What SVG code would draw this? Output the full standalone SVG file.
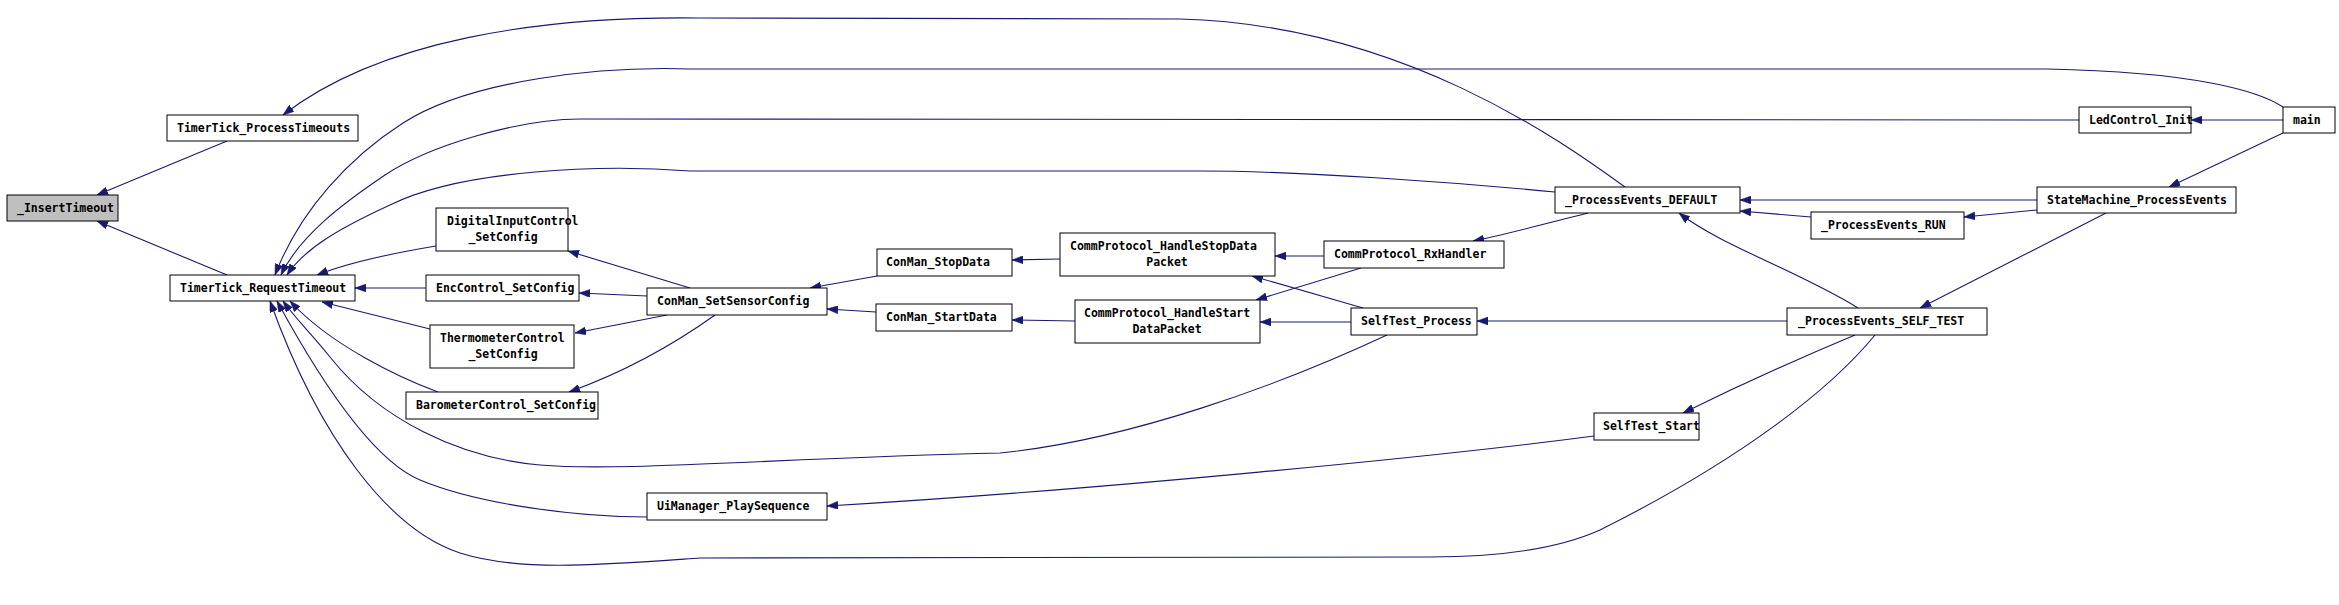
<svg xmlns="http://www.w3.org/2000/svg" width="2339" height="605" viewBox="0 0 2339 605">
<style>
.n rect{fill:#fff;stroke:#000;stroke-width:1}
.n.g rect{fill:#bfbfbf}
.n text{font-family:"DejaVu Sans Mono","Liberation Mono",monospace;font-weight:bold;font-size:11.5px;fill:#000}
.e path{fill:none;stroke:#191970;stroke-width:1.1;marker-end:url(#ah)}
</style>
<defs>
<marker id="ah" markerUnits="userSpaceOnUse" viewBox="0 0 11 8" refX="11" refY="4" markerWidth="11" markerHeight="8" orient="auto">
<path d="M0,0 L11,4 L0,8 z" fill="#191970" stroke="#191970" stroke-width="0.5"/>
</marker>
</defs>
<rect width="2339" height="605" fill="#fff"/>
<g id="edges" class="e">
<path d="M227,141 L97,195"/>
<path d="M227,275 L97,221"/>
<path d="M1625,187 C1560,140 1400,25 1180,19 L700,18 C540,16 380,40 283,115"/>
<path d="M2283,107 C2260,92 2200,72 2047,69 L690,69 C600,66 470,80 403,123 C350,157 300,210 275,275"/>
<path d="M2079,120 L580,119 C520,119 430,145 385,175 C345,202 300,235 281,275"/>
<path d="M1555,192 C1450,182 1300,171 1200,171 L690,171 C600,164 460,170 390,205 C340,228 305,248 287,275"/>
<path d="M436,246 C400,252 350,262 317,275"/>
<path d="M426,288 L355,288"/>
<path d="M430,329 L322,302"/>
<path d="M438,392 C400,378 330,345 290,301"/>
<path d="M690,288 L568,251"/>
<path d="M647,296 L579,293"/>
<path d="M667,315 L575,333"/>
<path d="M715,315 C680,340 630,370 569,392"/>
<path d="M877,276 L810,288"/>
<path d="M876,312 L827,309"/>
<path d="M1060,259 L1012,260"/>
<path d="M1075,321 L1012,320"/>
<path d="M1324,256 L1275,256"/>
<path d="M1361,268 L1256,300"/>
<path d="M1363,308 L1252,276"/>
<path d="M1351,322 L1260,322"/>
<path d="M1588,213 C1540,225 1500,236 1473,241"/>
<path d="M1787,321 L1477,321"/>
<path d="M1858,308 C1800,272 1720,245 1679,213"/>
<path d="M2037,200 L1740,200"/>
<path d="M2037,210 L1964,217"/>
<path d="M1811,217 L1740,211"/>
<path d="M2106,213 L1920,308"/>
<path d="M2283,133 L2169,187"/>
<path d="M2283,120 L2191,120"/>
<path d="M1855,335 C1800,358 1740,385 1683,413"/>
<path d="M1594,436 C1450,455 1100,490 827,506"/>
<path d="M1387,335 C1280,385 1130,440 1000,453 C780,458 620,472 540,465 C460,458 380,420 330,357 C310,332 295,318 283,301"/>
<path d="M647,517 C580,517 480,505 420,480 C372,460 320,380 277,301"/>
<path d="M1875,335 C1830,390 1740,460 1600,530 C1560,548 1500,557 1430,557 L700,558 C600,565 520,572 460,553 C390,530 320,440 270,301"/>
</g>
<g id="n_InsertTimeout" class="n g"><rect x="7" y="195" width="111" height="26"/><text x="17" y="212">_InsertTimeout</text></g>
<g id="n_ProcessTimeouts" class="n"><rect x="167" y="115" width="191" height="26"/><text x="177" y="132">TimerTick_ProcessTimeouts</text></g>
<g id="n_RequestTimeout" class="n"><rect x="170" y="275" width="185" height="26"/><text x="180" y="292">TimerTick_RequestTimeout</text></g>
<g id="n_DigitalInput" class="n"><rect x="436" y="208" width="132" height="43"/><text x="447" y="225">DigitalInputControl</text><text x="503" y="241" text-anchor="middle">_SetConfig</text></g>
<g id="n_EncControl" class="n"><rect x="426" y="275" width="153" height="26"/><text x="436" y="292">EncControl_SetConfig</text></g>
<g id="n_Thermometer" class="n"><rect x="430" y="325" width="144" height="43"/><text x="440" y="342">ThermometerControl</text><text x="503" y="358" text-anchor="middle">_SetConfig</text></g>
<g id="n_Barometer" class="n"><rect x="406" y="392" width="192" height="27"/><text x="416" y="409">BarometerControl_SetConfig</text></g>
<g id="n_SetSensorConfig" class="n"><rect x="647" y="288" width="180" height="27"/><text x="657" y="305">ConMan_SetSensorConfig</text></g>
<g id="n_UiManager" class="n"><rect x="647" y="493" width="180" height="27"/><text x="657" y="510">UiManager_PlaySequence</text></g>
<g id="n_StopData" class="n"><rect x="877" y="249" width="135" height="27"/><text x="886" y="266">ConMan_StopData</text></g>
<g id="n_StartData" class="n"><rect x="876" y="304" width="136" height="27"/><text x="886" y="321">ConMan_StartData</text></g>
<g id="n_HandleStop" class="n"><rect x="1060" y="233" width="215" height="43"/><text x="1070" y="250">CommProtocol_HandleStopData</text><text x="1167" y="266" text-anchor="middle">Packet</text></g>
<g id="n_HandleStart" class="n"><rect x="1075" y="300" width="185" height="43"/><text x="1084" y="317">CommProtocol_HandleStart</text><text x="1167" y="333" text-anchor="middle">DataPacket</text></g>
<g id="n_RxHandler" class="n"><rect x="1324" y="241" width="180" height="27"/><text x="1334" y="258">CommProtocol_RxHandler</text></g>
<g id="n_SelfTestProcess" class="n"><rect x="1351" y="308" width="126" height="27"/><text x="1361" y="325">SelfTest_Process</text></g>
<g id="n_DEFAULT" class="n"><rect x="1555" y="187" width="185" height="26"/><text x="1565" y="204">_ProcessEvents_DEFAULT</text></g>
<g id="n_RUN" class="n"><rect x="1811" y="212" width="153" height="27"/><text x="1821" y="229">_ProcessEvents_RUN</text></g>
<g id="n_SELF_TEST" class="n"><rect x="1787" y="308" width="200" height="27"/><text x="1798" y="325">_ProcessEvents_SELF_TEST</text></g>
<g id="n_SelfTestStart" class="n"><rect x="1594" y="413" width="105" height="27"/><text x="1603" y="430">SelfTest_Start</text></g>
<g id="n_StateMachine" class="n"><rect x="2037" y="187" width="199" height="26"/><text x="2047" y="204">StateMachine_ProcessEvents</text></g>
<g id="n_LedControl" class="n"><rect x="2079" y="107" width="112" height="26"/><text x="2089" y="124">LedControl_Init</text></g>
<g id="n_main" class="n"><rect x="2283" y="107" width="52" height="26"/><text x="2293" y="124">main</text></g>
</svg>
